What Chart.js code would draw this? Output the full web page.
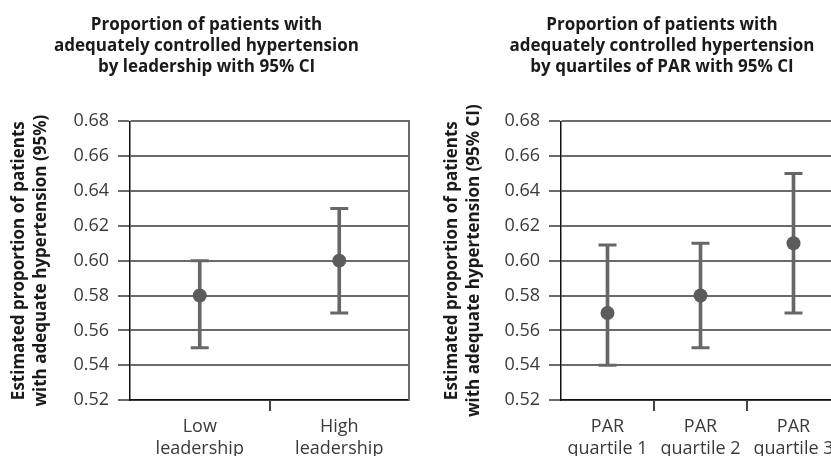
<!DOCTYPE html>
<html>
<head>
<meta charset="utf-8">
<script src="https://cdn.jsdelivr.net/npm/chart.js@4/dist/chart.umd.min.js"></script>
<style>
  html, body { margin: 0; padding: 0; background: #fff; overflow: hidden; width: 831px; height: 456px; }
  #left { position: absolute; left: 0; top: 0; }
  #right { position: absolute; left: 415px; top: 0; }
</style>
</head>
<body>
<canvas id="left" width="421" height="456"></canvas>
<canvas id="right" width="494" height="456"></canvas>
<script>
// left panel: leadership
const leaderLabels = [['Low', 'leadership'], ['High', 'leadership']];
const leaderMean = [0.58, 0.60];
const leaderLow = [0.55, 0.57];
const leaderHigh = [0.60, 0.63];

// right panel: quartiles of PAR
const parLabels = [['PAR', 'quartile 1'], ['PAR', 'quartile 2'], ['PAR', 'quartile 3']];
const parMean = [0.57, 0.58, 0.61];
const parLow = [0.54, 0.55, 0.57];
const parHigh = [0.609, 0.61, 0.65];

const yTicks = [0.52, 0.54, 0.56, 0.58, 0.60, 0.62, 0.64, 0.66, 0.68];

const FONT = "'Open Sans', 'Noto Sans', sans-serif";
const GRID = '#6a6a6a';
const MARK = '#676767';

function makeChart(el, cfg) {
  const datasets = [
    { type: 'line', data: cfg.mean, showLine: false, pointRadius: 7, pointHoverRadius: 7,
      pointBackgroundColor: '#5c5c5c', pointBorderColor: '#5c5c5c', borderWidth: 0, order: 0 },
    { type: 'line', data: cfg.high, showLine: false, pointStyle: 'line', pointRadius: 9,
      pointBorderColor: MARK, pointBorderWidth: 3, order: 1 },
    { type: 'line', data: cfg.low, showLine: false, pointStyle: 'line', pointRadius: 9,
      pointBorderColor: MARK, pointBorderWidth: 3, order: 1 },
    { type: 'bar', data: cfg.low.map((v, i) => [v, cfg.high[i]]), barThickness: 3,
      backgroundColor: MARK, borderWidth: 0, order: 2 }
  ];
  return new Chart(el.getContext('2d'), {
    type: 'bar',
    data: { labels: cfg.labels, datasets },
    options: {
      responsive: false, animation: false,
      layout: { padding: cfg.padding },
      plugins: {
        legend: { display: false }, tooltip: { enabled: false },
        title: {
          display: true, text: cfg.title, color: '#1a1a1a',
          font: { family: FONT, size: 17, weight: 'bold', lineHeight: 1.26 },
          padding: { top: 14, bottom: 43 }
        }
      },
      scales: {
        x: {
          offset: true,
          afterFit: s => { s.paddingLeft = 0; s.paddingRight = 0; },
          grid: { offset: true, drawOnChartArea: false, tickLength: 11, lineWidth: 2,
                  color: c => (c.type === 'tick' && c.index > 0) ? '#444' : 'rgba(0,0,0,0)' },
          border: { color: '#111', width: 1.5 },
          ticks: { color: '#3a3a3a', padding: 5, maxRotation: 0, autoSkip: false,
                   font: { family: FONT, size: 18, lineHeight: 1.22 } }
        },
        y: {
          min: 0.52, max: 0.68,
          afterBuildTicks: s => { s.ticks = yTicks.map(v => ({ value: v })); },
          afterFit: s => { s.width = cfg.yWidth; },
          grid: { color: GRID, lineWidth: 2, tickLength: 12 },
          border: { color: '#111', width: 1.5 },
          ticks: { color: '#3a3a3a', padding: 9, callback: v => v.toFixed(2),
                   font: { family: FONT, size: 18 } },
          title: {
            display: true, text: cfg.yTitle, color: '#1a1a1a',
            padding: { top: cfg.yTitlePad, bottom: 4 },
            font: { family: FONT, size: 17, weight: 'bold', lineHeight: 1.3 }
          }
        },
        y2: {
          position: 'right', min: 0.52, max: 0.68,
          grid: { display: false, drawTicks: false },
          ticks: { display: false },
          border: { display: true, color: GRID, width: 2 },
          afterFit: s => { s.width = cfg.rightGap; }
        }
      }
    }
  });
}

makeChart(document.getElementById('left'), {
  labels: leaderLabels, mean: leaderMean, low: leaderLow, high: leaderHigh,
  title: ['Proportion of patients with', 'adequately controlled hypertension', 'by leadership with 95% CI'],
  yTitle: ['Estimated proportion of patients', 'with adequate hypertension (95%)'],
  padding: { left: 1, right: 9, top: 0, bottom: -9 },
  yWidth: 129, yTitlePad: 7, rightGap: 1
});

makeChart(document.getElementById('right'), {
  labels: parLabels, mean: parMean, low: parLow, high: parHigh,
  title: ['Proportion of patients with', 'adequately controlled hypertension', 'by quartiles of PAR with 95% CI'],
  yTitle: ['Estimated proportion of patients', 'with adequate hypertension (95% CI)'],
  padding: { left: 22, right: 22, top: 0, bottom: -9 },
  yWidth: 124, yTitlePad: 4, rightGap: 47
});
</script>
</body>
</html>
